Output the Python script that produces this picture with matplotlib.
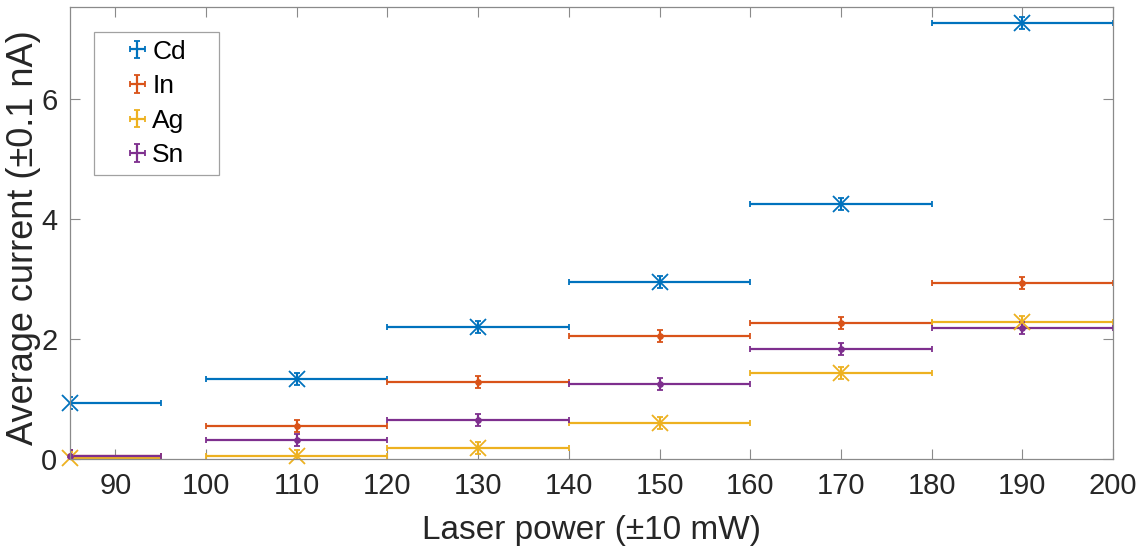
import numpy as np
import matplotlib.pyplot as plt
from matplotlib.container import ErrorbarContainer
from matplotlib.legend_handler import HandlerErrorbar

plt.rcParams['font.family'] = ['Liberation Sans', 'DejaVu Sans']

# laser power set points (mW) and their uncertainty
power = [85, 110, 130, 150, 170, 190]
power_err = 10
current_err = 0.1

cd = [0.93, 1.34, 2.21, 2.95, 4.26, 7.27]
indium = [0.06, 0.56, 1.28, 2.06, 2.27, 2.93]
ag = [0.02, 0.06, 0.19, 0.61, 1.44, 2.29]
sn = [0.06, 0.32, 0.66, 1.26, 1.84, 2.18]

series = [
    ("Cd", cd, "#0072BD", "x"),
    ("In", indium, "#D95319", "."),
    ("Ag", ag, "#EDB120", "x"),
    ("Sn", sn, "#7E2F8E", "."),
]

fig = plt.figure(figsize=(11.43, 5.48), dpi=100)
ax = fig.add_axes([0.0612, 0.162, 0.9126, 0.8245])

handles = []
for name, vals, col, mk in series:
    ms = 11 if mk == "x" else 7
    eb = ax.errorbar(power, vals, xerr=power_err, yerr=current_err, fmt=mk, color=col,
                     ms=ms, mew=1.3, elinewidth=1.6, capsize=2.5, capthick=1.3)
    eb.lines[0].set_clip_on(False)  # markers on the edge stay whole
    # legend entry: bare error cross, no marker
    h = ax.errorbar([np.nan], [np.nan], xerr=1, yerr=1, fmt="none", color=col,
                    elinewidth=1.6, capsize=2, capthick=1.3, label=name)
    handles.append(h)

ax.set_xlim(85, 200)
ax.set_ylim(0, 7.53)
ax.set_xticks([90, 100, 110, 120, 130, 140, 150, 160, 170, 180, 190, 200])
ax.set_yticks([0, 2, 4, 6])
ax.tick_params(direction="in", top=True, right=True, length=7, width=0.8,
               labelsize=21, colors="#8a8a8a", labelcolor="#262626", pad=9)
for sp in ax.spines.values():
    sp.set_color("#8a8a8a")
    sp.set_linewidth(0.9)

ax.set_xlabel("Laser power (\u00b110 mW)", fontsize=24, color="#262626", labelpad=11)
ax.set_ylabel("Average current (\u00b10.1 nA)", fontsize=26, color="#262626")
ax.yaxis.set_label_coords(-0.028, 0.49)

leg = ax.legend(handles=handles, loc="upper left", borderaxespad=0,
                bbox_to_anchor=(0.023, 0.945, 0.12, 0.0), mode="expand", fontsize=19,
                frameon=True, fancybox=False, edgecolor="#8a8a8a", handlelength=2.73,
                handletextpad=-0.8, borderpad=0.28, labelspacing=0.4, numpoints=1,
                handler_map={ErrorbarContainer: HandlerErrorbar(xerr_size=0.28, yerr_size=0.33)})
leg.get_frame().set_linewidth(0.9)

fig.savefig("out.png", dpi=100)
